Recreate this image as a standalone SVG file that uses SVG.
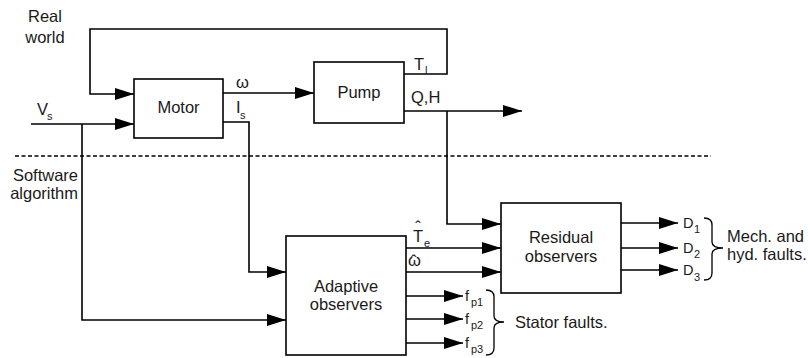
<svg xmlns="http://www.w3.org/2000/svg" width="810" height="358" viewBox="0 0 810 358">
<style>
  text { font-family: "Liberation Sans", Arial, sans-serif; fill: #1a1a1a; }
  .lbl { font-size: 16.5px; }
  .mid { text-anchor: middle; }
  .sub { font-size: 11px; }
  .sig { font-size: 14.5px; }
  .box { fill: #ffffff; stroke: #000000; stroke-width: 1.6; }
  .wire { fill: none; stroke: #000000; stroke-width: 1.6; }
  .arr { marker-end: url(#ah); }
  .dash { fill: none; stroke: #000000; stroke-width: 1.3; stroke-dasharray: 4 2.5; }
  .brace { fill: none; stroke: #000000; stroke-width: 1.3; }
</style>
<defs>
  <marker id="ah" markerUnits="userSpaceOnUse" markerWidth="19" markerHeight="12" refX="19" refY="6" orient="auto">
    <path d="M0,0 L19,6 L0,12 Z" fill="#000000"/>
  </marker>
</defs>
<rect width="810" height="358" fill="#ffffff"/>

<g id="region-labels">
  <text class="lbl mid" x="45" y="22">Real</text>
  <text class="lbl mid" x="45" y="43">world</text>
  <text class="lbl" x="78" y="181" text-anchor="end">Software</text>
  <text class="lbl" x="78" y="199" text-anchor="end">algorithm</text>
  <line class="dash" x1="15" y1="156" x2="711" y2="156"/>
</g>

<g id="connectors">
  <polyline class="wire arr" points="404,74 447,74 447,29 90,29 90,94 134,94"/>
  <polyline class="wire arr" points="31,124 134,124"/>
  <polyline class="wire arr" points="82,124 82,320 286,320"/>
  <polyline class="wire arr" points="223,93 314,93"/>
  <polyline class="wire arr" points="223,122 249,122 249,272 286,272"/>
  <polyline class="wire arr" points="404,111 522,111"/>
  <polyline class="wire arr" points="447,111 447,224 501,224"/>
  <polyline class="wire arr" points="406,248 501,248"/>
  <polyline class="wire arr" points="406,272 501,272"/>
  <polyline class="wire arr" points="406,296 463,296"/>
  <polyline class="wire arr" points="406,319 463,319"/>
  <polyline class="wire arr" points="406,343 463,343"/>
  <polyline class="wire arr" points="621,223 678,223"/>
  <polyline class="wire arr" points="621,248 678,248"/>
  <polyline class="wire arr" points="621,270 678,270"/>
</g>

<g id="signal-labels">
  <text class="lbl" x="37" y="115">V<tspan class="sub" x="47" y="120">s</tspan></text>
  <text class="lbl" x="236" y="88">ω</text>
  <text class="lbl" x="236" y="113">I<tspan class="sub" x="240" y="119">s</tspan></text>
  <text class="lbl" x="414" y="70">T<tspan class="sub" x="425" y="74">l</tspan></text>
  <text class="lbl" x="411" y="103">Q,H</text>
  <text class="lbl" x="413" y="242">T<tspan x="415.3" y="233">ˆ</tspan><tspan class="sub" x="424" y="247">e</tspan></text>
  <text class="lbl" x="408" y="266">ω<tspan x="411" y="267">ˆ</tspan></text>
  <text class="sig" x="465" y="301">f<tspan class="sub" x="471" y="306">p1</tspan></text>
  <text class="sig" x="465" y="324">f<tspan class="sub" x="471" y="329">p2</tspan></text>
  <text class="sig" x="465" y="348">f<tspan class="sub" x="471" y="353">p3</tspan></text>
  <text class="sig" x="683" y="228">D<tspan class="sub" x="694" y="233">1</tspan></text>
  <text class="sig" x="683" y="253">D<tspan class="sub" x="694" y="258">2</tspan></text>
  <text class="sig" x="683" y="275">D<tspan class="sub" x="694" y="281">3</tspan></text>
</g>

<g id="stator-brace">
  <path class="brace" d="M486,290 Q494,290 494,297 L494,316 Q494,322 504,322 Q494,322 494,328 L494,348 Q494,355 486,355"/>
  <text class="lbl" x="515" y="328">Stator faults.</text>
</g>

<g id="mech-brace">
  <path class="brace" d="M704,218 Q712,218 712,225 L712,242 Q712,248 723,248 Q712,248 712,254 L712,273 Q712,280 704,280"/>
  <text class="lbl" x="727" y="242">Mech. and</text>
  <text class="lbl" x="727" y="260">hyd. faults.</text>
</g>

<g id="motor">
  <rect class="box" x="134" y="79" width="89" height="59"/>
  <text class="lbl mid" x="178.5" y="113">Motor</text>
</g>

<g id="pump">
  <rect class="box" x="314" y="62" width="90" height="61"/>
  <text class="lbl mid" x="359" y="98">Pump</text>
</g>

<g id="adaptive-observers">
  <rect class="box" x="286" y="236" width="120" height="119"/>
  <text class="lbl mid" x="346" y="292">Adaptive</text>
  <text class="lbl mid" x="346" y="310">observers</text>
</g>

<g id="residual-observers">
  <rect class="box" x="501" y="203" width="120" height="90"/>
  <text class="lbl mid" x="561" y="243">Residual</text>
  <text class="lbl mid" x="561" y="262">observers</text>
</g>
</svg>
